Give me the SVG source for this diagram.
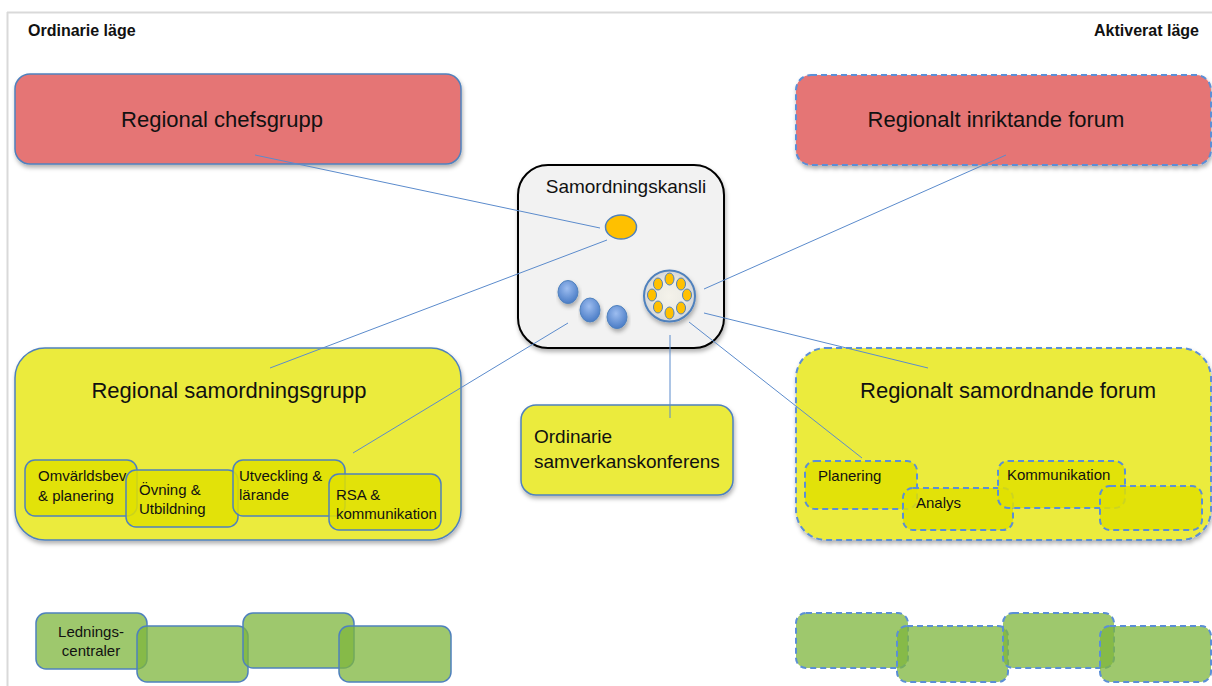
<svg xmlns="http://www.w3.org/2000/svg" width="1212" height="686" viewBox="0 0 1212 686">
<defs>
  <filter id="sh" x="-10%" y="-10%" width="130%" height="140%">
    <feDropShadow dx="1" dy="3" stdDeviation="2" flood-color="#000" flood-opacity="0.3"/>
  </filter>
  <radialGradient id="gBlue" cx="45%" cy="35%" r="65%">
    <stop offset="0" stop-color="#9dbdf0"/>
    <stop offset="1" stop-color="#4a7cc6"/>
  </radialGradient>
  <radialGradient id="gRing" cx="50%" cy="50%" r="50%">
    <stop offset="0" stop-color="#f4f2ea"/>
    <stop offset="0.6" stop-color="#ecebe4"/>
    <stop offset="1" stop-color="#d6d6d6"/>
  </radialGradient>
</defs>
<style>
  .t { font-family: "Liberation Sans", Arial, sans-serif; fill: #111; }
  .hb { font-weight: bold; font-size: 16px; }
  .big { font-size: 22px; }
  .mid { font-size: 19px; }
  .sm { font-size: 15px; }
  .red { fill: #e57474; }
  .ylw { fill: #ebeb3c; }
  .sub { fill: #e0e000; fill-opacity: 0.85; }
  .grn { fill: #7db63c; fill-opacity: 0.75; }
  .solid { stroke: #4f81bd; stroke-width: 1.5; }
  .dash { stroke: #5b8fd6; stroke-width: 2; stroke-dasharray: 6 4; }
  .conn line { stroke: #5b8bcc; stroke-width: 1; }
</style>
<rect width="1212" height="686" fill="#fff"/>
<g id="frame">
  <line x1="7" y1="12.5" x2="1212" y2="12.5" stroke="#d9d9d9" stroke-width="2"/>
  <line x1="7.5" y1="12" x2="7.5" y2="686" stroke="#d9d9d9" stroke-width="2"/>
</g>
<g id="headers">
  <text class="t hb" x="28" y="36">Ordinarie läge</text>
  <text class="t hb" x="1199" y="36" text-anchor="end">Aktiverat läge</text>
</g>

<g id="regional-chefsgrupp">
  <rect x="15" y="74" width="446" height="90" rx="15" class="red solid" filter="url(#sh)"/>
  <text class="t big" x="222" y="127" text-anchor="middle">Regional chefsgrupp</text>
</g>
<g id="regionalt-inriktande-forum">
  <rect x="796" y="75" width="415" height="90" rx="15" class="red dash" filter="url(#sh)"/>
  <text class="t big" x="996" y="127" text-anchor="middle">Regionalt inriktande forum</text>
</g>

<g id="samordningskansli">
  <rect x="518" y="165" width="206" height="183" rx="30" fill="#f2f2f2" stroke="#000" stroke-width="2" filter="url(#sh)"/>
  <text class="t mid" x="626" y="193" text-anchor="middle">Samordningskansli</text>
  <ellipse cx="621" cy="227" rx="15.5" ry="12" fill="#ffc000" stroke="#4f81bd" stroke-width="1.5"/>
  <ellipse cx="568" cy="292" rx="10" ry="11.5" fill="url(#gBlue)" stroke="#4f81bd" stroke-width="1" filter="url(#sh)"/>
  <ellipse cx="590" cy="310" rx="10" ry="12" fill="url(#gBlue)" stroke="#4f81bd" stroke-width="1" filter="url(#sh)"/>
  <ellipse cx="617" cy="317" rx="10" ry="11.5" fill="url(#gBlue)" stroke="#4f81bd" stroke-width="1" filter="url(#sh)"/>
  <circle cx="669.5" cy="296" r="25.5" fill="url(#gRing)" stroke="#4f81bd" stroke-width="2" filter="url(#sh)"/>
  <g fill="#ffc000" stroke="#4f81bd" stroke-width="1">
    <ellipse cx="669.5" cy="279" rx="4.5" ry="6"/>
    <ellipse cx="681" cy="284" rx="4.5" ry="6"/>
    <ellipse cx="687" cy="295" rx="4.5" ry="6"/>
    <ellipse cx="681" cy="308" rx="4.5" ry="6"/>
    <ellipse cx="669.5" cy="313" rx="4.5" ry="6"/>
    <ellipse cx="658" cy="307" rx="4.5" ry="6"/>
    <ellipse cx="652" cy="295" rx="4.5" ry="6"/>
    <ellipse cx="658" cy="284" rx="4.5" ry="6"/>
  </g>
</g>

<g id="regional-samordningsgrupp">
  <rect x="15" y="348" width="446" height="192" rx="30" class="ylw solid" filter="url(#sh)"/>
  <text class="t big" x="229" y="398" text-anchor="middle">Regional samordningsgrupp</text>
</g>
<g id="omvarldsbevakning">
  <rect x="25" y="460" width="112" height="56" rx="10" class="sub solid"/>
  <text class="t sm" x="38" y="481">Omvärldsbev</text>
  <text class="t sm" x="38" y="501">&amp; planering</text>
</g>
<g id="ovning-utbildning">
  <rect x="126" y="470" width="112" height="57" rx="10" class="sub solid"/>
  <text class="t sm" x="139" y="495">Övning &amp;</text>
  <text class="t sm" x="139" y="514">Utbildning</text>
</g>
<g id="utveckling-larande">
  <rect x="233" y="460" width="112" height="56" rx="10" class="sub solid"/>
  <text class="t sm" x="239" y="481">Utveckling &amp;</text>
  <text class="t sm" x="239" y="500">lärande</text>
</g>
<g id="rsa-kommunikation">
  <rect x="329" y="474" width="112" height="56" rx="10" class="sub solid"/>
  <text class="t sm" x="336" y="500">RSA &amp;</text>
  <text class="t sm" x="336" y="519">kommunikation</text>
</g>

<g id="ordinarie-samverkanskonferens">
  <rect x="521" y="405" width="212" height="90" rx="15" class="ylw solid" filter="url(#sh)"/>
  <text class="t mid" x="534" y="443">Ordinarie</text>
  <text class="t mid" x="534" y="468">samverkanskonferens</text>
</g>

<g id="regionalt-samordnande-forum">
  <rect x="796" y="348" width="415" height="192" rx="30" class="ylw dash" filter="url(#sh)"/>
  <text class="t big" x="1008" y="398" text-anchor="middle">Regionalt samordnande forum</text>
</g>
<g id="planering">
  <rect x="805" y="461" width="112" height="48" rx="10" class="sub dash"/>
  <text class="t sm" x="818" y="481">Planering</text>
</g>
<g id="analys">
  <rect x="903" y="488" width="110" height="42" rx="10" class="sub dash"/>
  <text class="t sm" x="916" y="508">Analys</text>
</g>
<g id="kommunikation">
  <rect x="998" y="461" width="127" height="47" rx="10" class="sub dash"/>
  <text class="t sm" x="1007" y="480">Kommunikation</text>
</g>
<g id="tom-ruta">
  <rect x="1100" y="486" width="102" height="44" rx="10" class="sub dash"/>
</g>

<g id="ledningscentraler">
  <rect x="36" y="613" width="111" height="56" rx="10" class="grn solid"/>
  <text class="t sm" x="91" y="637" text-anchor="middle">Lednings-</text>
  <text class="t sm" x="91" y="656" text-anchor="middle">centraler</text>
</g>
<g id="gron-2"><rect x="137" y="626" width="111" height="56" rx="10" class="grn solid"/></g>
<g id="gron-3"><rect x="243" y="613" width="111" height="55" rx="10" class="grn solid"/></g>
<g id="gron-4"><rect x="339" y="626" width="112" height="56" rx="10" class="grn solid"/></g>

<g id="gron-akt-1"><rect x="796" y="613" width="112" height="55" rx="10" class="grn dash"/></g>
<g id="gron-akt-2"><rect x="897" y="626" width="111" height="56" rx="10" class="grn dash"/></g>
<g id="gron-akt-3"><rect x="1003" y="613" width="111" height="55" rx="10" class="grn dash"/></g>
<g id="gron-akt-4"><rect x="1100" y="626" width="111" height="56" rx="10" class="grn dash"/></g>

<g id="connectors" class="conn">
  <line x1="255" y1="155" x2="600" y2="228"/>
  <line x1="270" y1="368" x2="607" y2="240"/>
  <line x1="353" y1="453" x2="568" y2="323"/>
  <line x1="670" y1="335" x2="670" y2="418"/>
  <line x1="689" y1="322" x2="862" y2="458"/>
  <line x1="704" y1="313" x2="928" y2="368"/>
  <line x1="704" y1="289" x2="1006" y2="155"/>
</g>
</svg>
